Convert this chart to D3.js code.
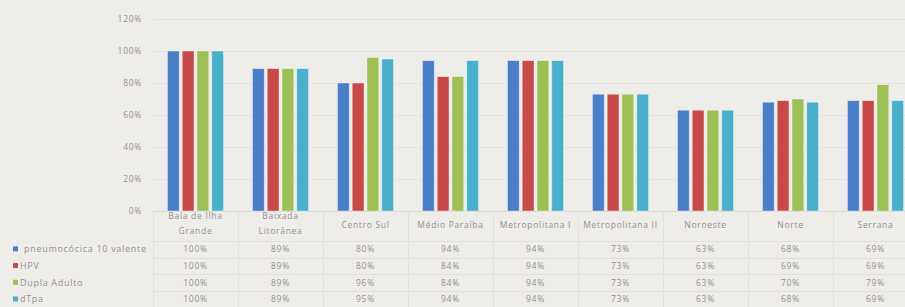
<!DOCTYPE html>
<html>
<head>
<meta charset="utf-8">
<script src="https://cdn.jsdelivr.net/npm/d3@7"></script>
<style>
  body { margin: 0; background: #efedea; overflow: hidden; }
  svg text { font-family: "Open Sans", "DejaVu Sans", sans-serif; fill: #929090; letter-spacing: 0.7px; }
</style>
</head>
<body>
<div id="chart"></div>
<script>
// categories (region names) and the header labels as they wrap in the table
var categories = ["Baía de Ilha Grande", "Baixada Litorânea", "Centro Sul", "Médio Paraíba",
  "Metropolitana I", "Metropolitana II", "Noroeste", "Norte", "Serrana"];
var categoryLines = [["Baía de Ilha", "Grande"], ["Baixada", "Litorânea"], ["Centro Sul"], ["Médio Paraíba"],
  ["Metropolitana I"], ["Metropolitana II"], ["Noroeste"], ["Norte"], ["Serrana"]];

var seriesNames = ["pneumocócica 10 valente", "HPV", "Dupla Adulto", "dTpa"];
var pneumo = [100, 89, 80, 94, 94, 73, 63, 68, 69];
var hpv    = [100, 89, 80, 84, 94, 73, 63, 69, 69];
var dupla  = [100, 89, 96, 84, 94, 73, 63, 70, 79];
var dtpa   = [100, 89, 95, 94, 94, 73, 63, 68, 69];
var yTicks = [0, 20, 40, 60, 80, 100, 120];

var seriesValues = [pneumo, hpv, dupla, dtpa];
var colors = ["#4a7ec6", "#c84a48", "#9cbf56", "#4aafca"];

var W = 905, H = 307;
var plot = {left: 153, right: 918, top: 19, bottom: 211};

var svg = d3.select("#chart").append("svg")
    .attr("width", W)
    .attr("height", H);

var x0 = d3.scaleBand()
    .domain(categories)
    .range([plot.left, plot.right])
    .paddingInner(0.27)
    .paddingOuter(0.135);
var catStep = (plot.right - plot.left) / categories.length;

var x1 = d3.scaleBand()
    .domain(seriesNames)
    .range([0, x0.bandwidth()])
    .padding(0.2);

var y = d3.scaleLinear()
    .domain([0, 120])
    .range([plot.bottom, plot.top]);

// gridlines
svg.append("g")
  .selectAll("line")
  .data(yTicks)
  .enter().append("line")
    .attr("x1", plot.left)
    .attr("x2", W)
    .attr("y1", function(d) { return Math.round(y(d)) + 0.5; })
    .attr("y2", function(d) { return Math.round(y(d)) + 0.5; })
    .attr("stroke", function(d) { return d == 0 ? "#dad8d5" : "#e4e2df"; })
    .attr("stroke-width", 1);

// y axis labels
var yAxis = svg.append("g")
    .attr("transform", "translate(" + (plot.left - 11) + ",0)")
    .call(d3.axisLeft(y).tickValues(yTicks).tickSize(0).tickPadding(0)
        .tickFormat(function(d) { return d + "%"; }));
yAxis.select(".domain").remove();
yAxis.selectAll("text").style("font-size", "8.5px").attr("fill", "#929090");

// bars
var bars = [];
seriesValues.forEach(function(vals, s) {
  vals.forEach(function(v, i) {
    bars.push({cat: categories[i], series: seriesNames[s], value: v, color: colors[s]});
  });
});

svg.append("g")
  .selectAll("rect")
  .data(bars)
  .enter().append("rect")
    .attr("x", function(d) { return x0(d.cat) + x1(d.series); })
    .attr("y", function(d) { return y(d.value); })
    .attr("width", x1.bandwidth())
    .attr("height", function(d) { return y(0) - y(d.value); })
    .attr("fill", function(d) { return d.color; })
    .attr("stroke", "#ffffff")
    .attr("stroke-opacity", 0.5)
    .attr("stroke-width", 0.8);

// data table
var headerBottom = 241;
var rowH = 16.7;
var table = svg.append("g");

// vertical lines
table.selectAll("line.v")
  .data(d3.range(categories.length + 1))
  .enter().append("line")
    .attr("class", "v")
    .attr("x1", function(k) { return Math.round(plot.left + k * catStep) + 0.5; })
    .attr("x2", function(k) { return Math.round(plot.left + k * catStep) + 0.5; })
    .attr("y1", plot.bottom)
    .attr("y2", H)
    .attr("stroke", "#e2e0dd");

// horizontal lines
table.selectAll("line.h")
  .data(d3.range(seriesNames.length))
  .enter().append("line")
    .attr("class", "h")
    .attr("x1", plot.left)
    .attr("x2", W)
    .attr("y1", function(r) { return Math.round(headerBottom + r * rowH) + 0.5; })
    .attr("y2", function(r) { return Math.round(headerBottom + r * rowH) + 0.5; })
    .attr("stroke", "#e2e0dd");

// header labels
var header = table.selectAll("text.cat")
  .data(categories)
  .enter().append("text")
    .attr("class", "cat")
    .attr("text-anchor", "middle")
    .style("font-size", "8.5px")
    .attr("x", function(d) { return x0(d) + x0.bandwidth() / 2; })
    .attr("y", function(d, i) { return categoryLines[i].length > 1 ? 219 : 228; });
header.selectAll("tspan")
  .data(function(d, i) { return categoryLines[i]; })
  .enter().append("tspan")
    .attr("x", function() { var p = this.parentNode; return p.getAttribute("x"); })
    .attr("dy", function(d, j) { return j == 0 ? 0 : 14.5; })
    .text(function(d) { return d; });

// legend keys + row labels + values
seriesNames.forEach(function(name, s) {
  var cy = headerBottom + s * rowH + rowH / 2;
  table.append("rect")
    .attr("x", 13)
    .attr("y", cy - 3)
    .attr("width", 5)
    .attr("height", 5)
    .attr("fill", colors[s]);
  table.append("text")
    .attr("x", s == 0 ? 24 : 20)
    .attr("y", cy + 3)
    .style("font-size", "9px")
    .text(name);
  table.selectAll(null)
    .data(seriesValues[s])
    .enter().append("text")
      .attr("text-anchor", "middle")
      .style("font-size", "8.5px")
      .attr("x", function(d, i) { return x0(categories[i]) + x0.bandwidth() / 2; })
      .attr("y", cy + 3)
      .text(function(d) { return d + "%"; });
});
</script>
</body>
</html>
